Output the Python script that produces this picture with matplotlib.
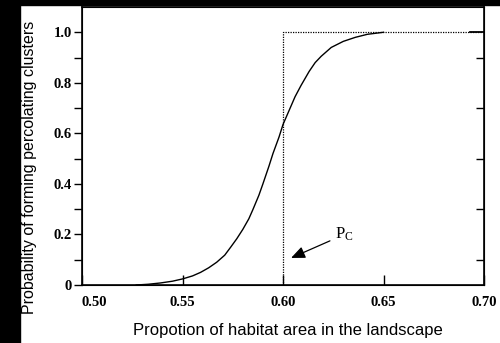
import matplotlib
matplotlib.use("Agg")
import matplotlib.pyplot as plt
from matplotlib.patches import Rectangle

habitat = [0.527, 0.533, 0.539, 0.545, 0.550, 0.555, 0.559, 0.563, 0.567,
           0.571, 0.574, 0.577, 0.580, 0.583, 0.585, 0.588, 0.590, 0.593,
           0.595, 0.598, 0.600, 0.603, 0.606, 0.609, 0.613, 0.616, 0.619,
           0.624, 0.630, 0.636, 0.642, 0.650]
prob = [0.0, 0.003, 0.008, 0.015, 0.024, 0.036, 0.050, 0.068, 0.090,
        0.118, 0.150, 0.183, 0.220, 0.262, 0.298, 0.355, 0.400, 0.470,
        0.520, 0.585, 0.635, 0.690, 0.745, 0.790, 0.845, 0.880, 0.905,
        0.940, 0.964, 0.980, 0.992, 1.0]
tail_x = [0.693, 0.700]
tail_y = [1.0, 1.0]

# theoretical step at the percolation threshold
step_x = [0.60, 0.60, 0.70]
step_y = [0.0, 1.0, 1.0]
pc = 0.60

xticks = [0.50, 0.55, 0.60, 0.65, 0.70]
xlabels = ["0.50", "0.55", "0.60", "0.65", "0.70"]
yticks = [0.0, 0.2, 0.4, 0.6, 0.8, 1.0]
ylabels = ["0", "0.2", "0.4", "0.6", "0.8", "1.0"]
yminor = [0.1, 0.3, 0.5, 0.7, 0.9]

fig = plt.figure(figsize=(5, 3.43), dpi=100, facecolor="white")
# black strips along the left and top edges
fig.patches.append(Rectangle((0, 0), 20 / 500, 1, transform=fig.transFigure,
                             color="black", zorder=-1))
fig.patches.append(Rectangle((0, 1 - 5 / 343), 1, 5 / 343, transform=fig.transFigure,
                             color="black", zorder=-1))

ax = fig.add_axes([82 / 500, 58 / 343, 402 / 500, 278 / 343])
ax.plot(habitat, prob, color="black", lw=1.0)
ax.plot(tail_x, tail_y, color="black", lw=1.3)
ax.plot(step_x, step_y, color="black", lw=0.9, linestyle=(0, (1, 1)))

ax.set_xlim(0.5, 0.7)
ax.set_ylim(0, 1.1)

for s in ax.spines.values():
    s.set_linewidth(1.2)

tick_font = dict(family="Liberation Serif", weight="bold", size=10.5)
ax.set_xticks(xticks)
ax.set_xticklabels(xlabels, **tick_font)
ax.get_xticklabels()[0].set_horizontalalignment("left")
ax.set_yticks(yticks)
ax.set_yticklabels(ylabels, **tick_font)
ax.set_yticks(yminor, minor=True)
ax.tick_params(axis="x", direction="in", length=7, width=1, pad=8)
ax.tick_params(axis="y", which="both", direction="out", length=6, width=1, pad=1.5)

ax2 = ax.twinx()
ax2.set_ylim(0, 1.1)
ax2.set_yticks(yminor)
ax2.set_yticklabels([])
ax2.tick_params(axis="y", direction="in", length=6, width=1)

ax.set_xlabel("Propotion of habitat area in the landscape",
              family="Liberation Sans", size=12)
ax.xaxis.set_label_coords(0.512, -0.135)
ax.set_ylabel("Probability of forming percolating clusters",
              family="Liberation Sans", size=11.5)
ax.yaxis.set_label_coords(-0.112, 0.424)

ax.annotate(r"$\mathregular{P_C}$", xy=(pc + 0.004, 0.107), xytext=(0.626, 0.20),
            family="Liberation Serif", size=12, va="center",
            arrowprops=dict(arrowstyle="-|>,head_length=0.7,head_width=0.3",
                            color="black", lw=0.9, shrinkA=2, shrinkB=0))

fig.savefig("out.png", dpi=100, facecolor=fig.get_facecolor())
